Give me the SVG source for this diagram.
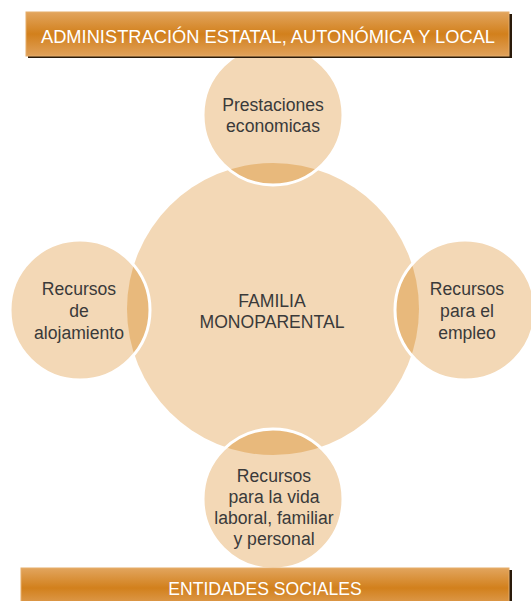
<svg xmlns="http://www.w3.org/2000/svg" width="531" height="601" viewBox="0 0 531 601">
<style>
.c{fill:#f3d8b6}
.lens{fill:#e8b97c}
.ring{fill:none;stroke:#ffffff;stroke-width:3}
.t{font-family:"Liberation Sans",Arial,sans-serif;font-size:17.6px;fill:#3a3a3a;text-anchor:middle}
.bt{font-family:"Liberation Sans",Arial,sans-serif;font-size:18.3px;fill:#ffffff;text-anchor:middle}
.bar{fill:url(#g);stroke:#e6ad6a;stroke-width:1}
.sh{fill:#2a1a0a}
</style>
<defs>
<linearGradient id="g" x1="0" y1="0" x2="0" y2="1">
<stop offset="0" stop-color="#e2a55e"/>
<stop offset="0.5" stop-color="#d2801c"/>
<stop offset="1" stop-color="#e0a15a"/>
</linearGradient>
<clipPath id="big"><circle cx="273" cy="309" r="146"/></clipPath>
</defs>
<g id="connectors"></g>
<g id="node-familia">
<circle class="c" cx="273" cy="309" r="146"/>
</g>
<g id="node-prestaciones">
<circle class="c" cx="273" cy="115" r="70"/>
<circle class="lens" cx="273" cy="115" r="70" clip-path="url(#big)"/>
<circle class="ring" cx="273" cy="115" r="70"/>
<text class="t" x="273" y="111">Prestaciones</text>
<text class="t" x="273" y="132">economicas</text>
</g>
<g id="node-empleo">
<circle class="c" cx="465" cy="310" r="70"/>
<circle class="lens" cx="465" cy="310" r="70" clip-path="url(#big)"/>
<circle class="ring" cx="465" cy="310" r="70"/>
<text class="t" x="467" y="295">Recursos</text>
<text class="t" x="467" y="317">para el</text>
<text class="t" x="467" y="339">empleo</text>
</g>
<g id="node-alojamiento">
<circle class="c" cx="80" cy="310" r="70"/>
<circle class="lens" cx="80" cy="310" r="70" clip-path="url(#big)"/>
<circle class="ring" cx="80" cy="310" r="70"/>
<text class="t" x="79" y="295">Recursos</text>
<text class="t" x="79" y="317">de</text>
<text class="t" x="79" y="339">alojamiento</text>
</g>
<g id="node-vida">
<circle class="c" cx="273" cy="499" r="70"/>
<circle class="lens" cx="273" cy="499" r="70" clip-path="url(#big)"/>
<circle class="ring" cx="273" cy="499" r="70"/>
<text class="t" x="274" y="482">Recursos</text>
<text class="t" x="274" y="503">para la vida</text>
<text class="t" x="274" y="524">laboral, familiar</text>
<text class="t" x="274" y="545">y personal</text>
</g>
<g id="node-familia-label">
<text class="t" x="272" y="307">FAMILIA</text>
<text class="t" x="272" y="328">MONOPARENTAL</text>
</g>
<g id="node-administracion">
<rect class="sh" x="28" y="14" width="484" height="44"/>
<rect class="bar" x="26" y="12" width="483" height="44"/>
<text class="bt" x="268" y="43">ADMINISTRACIÓN ESTATAL, AUTONÓMICA Y LOCAL</text>
</g>
<g id="node-entidades">
<rect class="sh" x="23" y="570" width="489" height="40"/>
<rect class="bar" x="21" y="568" width="488" height="40"/>
<text class="bt" x="265" y="595" style="font-size:17.6px">ENTIDADES SOCIALES</text>
</g>
</svg>
